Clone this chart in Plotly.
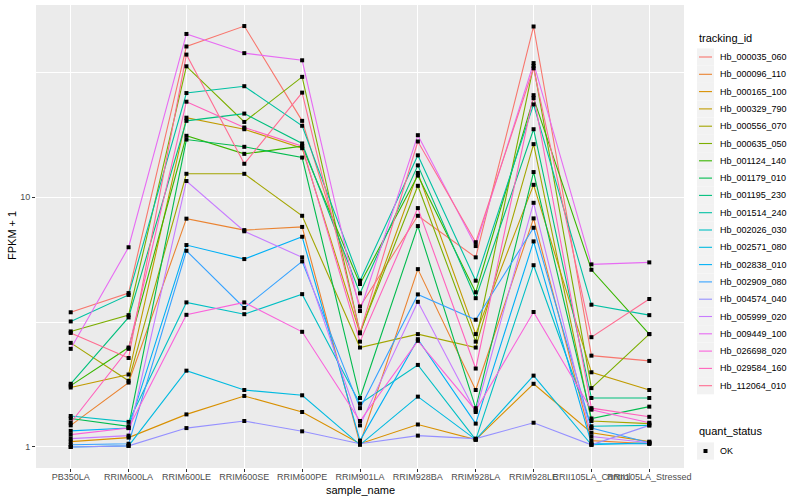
import plotly.graph_objects as go
import math

samples = ["PB350LA", "RRIM600LA", "RRIM600LE", "RRIM600SE", "RRIM600PE",
           "RRIM901LA", "RRIM928BA", "RRIM928LA", "RRIM928LE",
           "RRII105LA_Control", "RRII105LA_Stressed"]

tracking_ids = ["Hb_000035_060", "Hb_000096_110", "Hb_000165_100", "Hb_000329_790",
                "Hb_000556_070", "Hb_000635_050", "Hb_001124_140", "Hb_001179_010",
                "Hb_001195_230", "Hb_001514_240", "Hb_002026_030", "Hb_002571_080",
                "Hb_002838_010", "Hb_002909_080", "Hb_004574_040", "Hb_005999_020",
                "Hb_009449_100", "Hb_026698_020", "Hb_029584_160", "Hb_112064_010"]

quant_status = ["OK"]

# FPKM + 1 per sample (order of `samples`)
Hb_000035_060 = [3.46, 4.13, 40.1, 48.4, 20.2, 3.65, 8.42, 5.74, 48.2, 2.32, 2.21]
Hb_000096_110 = [1.22, 1.81, 8.2, 7.38, 7.6, 1.03, 5.15, 1.69, 8.22, 1.06, 1.03]
Hb_000165_100 = [1.05, 1.09, 1.35, 1.60, 1.38, 1.03, 1.23, 1.07, 1.79, 1.14, 1.05]
Hb_000329_790 = [1.73, 1.95, 20.8, 18.7, 15.7, 2.85, 12.5, 2.83, 11.2, 1.99, 1.69]
Hb_000556_070 = [2.61, 1.84, 12.4, 12.4, 8.42, 2.50, 2.83, 2.50, 16.3, 1.27, 1.24]
Hb_000635_050 = [2.90, 3.37, 33.4, 20.0, 30.3, 2.87, 11.1, 2.64, 33.5, 1.72, 2.83]
Hb_001124_140 = [1.76, 2.50, 17.6, 14.9, 16.0, 4.49, 12.2, 4.16, 24.9, 5.12, 2.83]
Hb_001179_010 = [1.30, 1.21, 17.0, 15.9, 14.4, 1.57, 7.66, 1.43, 12.6, 1.30, 1.45]
Hb_001195_230 = [1.79, 3.30, 20.2, 21.6, 16.4, 4.12, 13.4, 3.94, 18.7, 1.57, 1.57]
Hb_001514_240 = [3.18, 4.06, 26.1, 27.8, 19.3, 4.63, 14.7, 4.63, 23.5, 3.71, 3.37]
Hb_002026_030 = [1.33, 1.26, 3.79, 3.40, 4.09, 1.49, 2.13, 1.07, 5.34, 1.21, 1.22]
Hb_002571_080 = [1.00, 1.01, 2.02, 1.69, 1.61, 1.02, 1.59, 1.07, 1.93, 1.02, 1.04]
Hb_002838_010 = [1.16, 1.19, 6.43, 5.65, 6.94, 1.06, 2.70, 1.24, 6.65, 1.03, 1.03]
Hb_002909_080 = [1.02, 1.03, 6.10, 3.60, 5.53, 1.43, 4.08, 3.23, 7.54, 1.19, 1.04]
Hb_004574_040 = [1.00, 1.01, 1.19, 1.27, 1.155, 1.03, 1.11, 1.08, 1.25, 1.02, 1.22]
Hb_005999_020 = [1.08, 1.11, 11.6, 7.30, 5.74, 1.22, 3.81, 1.38, 9.49, 1.10, 1.04]
Hb_009449_100 = [2.47, 6.30, 45.0, 37.7, 35.3, 3.50, 17.7, 6.37, 34.4, 5.38, 5.48]
Hb_026698_020 = [1.12, 1.19, 3.38, 3.79, 2.89, 1.27, 2.66, 1.40, 3.47, 1.41, 1.25]
Hb_029584_160 = [1.25, 2.47, 24.1, 19.0, 16.0, 2.64, 9.04, 2.06, 25.6, 1.43, 1.32]
Hb_112064_010 = [2.86, 2.27, 37.2, 13.6, 26.2, 2.87, 16.7, 6.60, 32.8, 2.75, 3.91]

series = [Hb_000035_060, Hb_000096_110, Hb_000165_100, Hb_000329_790, Hb_000556_070,
          Hb_000635_050, Hb_001124_140, Hb_001179_010, Hb_001195_230, Hb_001514_240,
          Hb_002026_030, Hb_002571_080, Hb_002838_010, Hb_002909_080, Hb_004574_040,
          Hb_005999_020, Hb_009449_100, Hb_026698_020, Hb_029584_160, Hb_112064_010]

colors = ["#F8766D", "#EA8331", "#D89000", "#C09B00", "#A3A500", "#7CAE00", "#39B600",
          "#00BB4E", "#00BF7D", "#00C1A3", "#00BFC4", "#00BAE0", "#00B0F6", "#35A2FF",
          "#9590FF", "#C77CFF", "#E76BF3", "#FA62DB", "#FF62BC", "#FF6C91"]

FONT = "Liberation Sans"
W, H = 800, 500
L, R, T, B = 36, 116, 5, 32
PW, PH = W - L - R, H - T - B


def px(x):  # pixel -> paper x
    return (x - L) / PW


def py(y):  # pixel -> paper y
    return (H - B - y) / PH


fig = go.Figure()

for name, vals, col in zip(tracking_ids, series, colors):
    fig.add_trace(go.Scatter(x=samples, y=vals, mode="lines", name=name,
                             line=dict(color=col, width=1.1), showlegend=False))

all_x, all_y = [], []
for vals in series:
    all_x += samples
    all_y += vals
fig.add_trace(go.Scatter(x=all_x, y=all_y, mode="markers", name=quant_status[0],
                         marker=dict(symbol="square", size=4, color="black"),
                         showlegend=False))

lo = math.log10(min(min(s) for s in series))
hi = math.log10(max(max(s) for s in series))
pad = (hi - lo) * 0.05

shapes, annotations = [], []

# manual ggplot-style legend
annotations.append(dict(text="tracking_id", x=px(697), y=py(38), xref="paper", yref="paper",
                        xanchor="left", yanchor="middle", showarrow=False,
                        font=dict(size=11, color="black", family=FONT)))
step = 17.3
for i, (name, col) in enumerate(zip(tracking_ids, colors)):
    cy = 57.0 + step * i
    shapes.append(dict(type="rect", xref="paper", yref="paper",
                       x0=px(697), x1=px(714), y0=py(cy - 8.6), y1=py(cy + 8.6),
                       fillcolor="#F2F2F2", line=dict(width=0), layer="below"))
    shapes.append(dict(type="line", xref="paper", yref="paper",
                       x0=px(699), x1=px(712), y0=py(cy), y1=py(cy),
                       line=dict(color=col, width=1.1)))
    annotations.append(dict(text=name, x=px(718), y=py(cy), xref="paper", yref="paper",
                            xanchor="left", yanchor="middle", showarrow=False,
                            font=dict(size=9, color="black", family=FONT)))

annotations.append(dict(text="quant_status", x=px(697), y=py(431), xref="paper", yref="paper",
                        xanchor="left", yanchor="middle", showarrow=False,
                        font=dict(size=11, color="black", family=FONT)))
cy = 451
shapes.append(dict(type="rect", xref="paper", yref="paper",
                   x0=px(697), x1=px(714), y0=py(cy - 8.6), y1=py(cy + 8.6),
                   fillcolor="#F2F2F2", line=dict(width=0), layer="below"))
shapes.append(dict(type="rect", xref="paper", yref="paper",
                   x0=px(703.5), x1=px(707.5), y0=py(cy - 2), y1=py(cy + 2),
                   fillcolor="black", line=dict(width=0)))
annotations.append(dict(text=quant_status[0], x=px(718), y=py(cy), xref="paper", yref="paper",
                        xanchor="left", yanchor="middle", showarrow=False,
                        font=dict(size=9, color="black", family=FONT)))

# axis titles
annotations.append(dict(text="sample_name", x=px(360), y=py(490), xref="paper", yref="paper",
                        xanchor="center", yanchor="middle", showarrow=False,
                        font=dict(size=11, color="black", family=FONT)))
annotations.append(dict(text="FPKM + 1", x=px(12), y=py(236), xref="paper", yref="paper",
                        xanchor="center", yanchor="middle", showarrow=False, textangle=-90,
                        font=dict(size=11, color="black", family=FONT)))

fig.update_layout(
    width=W, height=H,
    margin=dict(l=L, r=R, t=T, b=B, autoexpand=False),
    paper_bgcolor="white", plot_bgcolor="#EBEBEB",
    font=dict(family=FONT, color="#000000"),
    showlegend=False,
    shapes=shapes, annotations=annotations,
    xaxis=dict(type="category", range=[-0.6, len(samples) - 0.4], automargin=False,
               showgrid=True, gridcolor="white", gridwidth=1.2, tickangle=0,
               ticks="outside", ticklen=3, tickcolor="#333333",
               ticklabelstandoff=-3,
               tickfont=dict(size=9, color="#4D4D4D"),
               zeroline=False, showline=False),
    yaxis=dict(type="log", range=[lo - pad, hi + pad], automargin=False,
               tickvals=[1, 10], ticktext=["1", "10"],
               showgrid=True, gridcolor="white", gridwidth=1.2,
               minor=dict(tickvals=[10 ** 0.5, 10 ** 1.5], showgrid=True,
                          gridcolor="white", gridwidth=0.5, ticks=""),
               ticks="outside", ticklen=3, tickcolor="#333333",
               tickfont=dict(size=9, color="#4D4D4D"),
               zeroline=False, showline=False),
)

fig.write_html("out.html", config={"displayModeBar": False},
               post_script="document.body.style.margin='0px';document.body.style.padding='0px';")
